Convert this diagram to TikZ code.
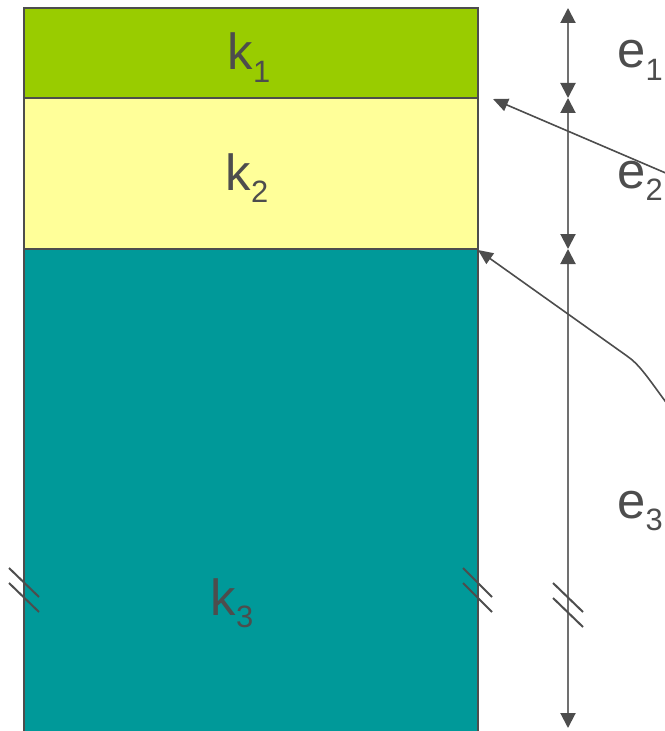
\documentclass[tikz,border=0pt]{standalone}
\usepackage{fontspec}
\setmainfont{Liberation Sans}
\usetikzlibrary{arrows.meta,positioning}

\definecolor{layerone}{HTML}{99CC00}
\definecolor{layertwo}{HTML}{FFFF99}
\definecolor{layerthree}{HTML}{009999}
\definecolor{inkgray}{HTML}{4D4D4D}
\definecolor{dimgray}{HTML}{707070}

% lowered index for layer names
\newcommand\lsub[1]{\raisebox{-0.24em}{\fontsize{31}{31}\selectfont #1}}

\tikzset{
  layer/.style={draw=inkgray, line width=2bp},
  lbl/.style={anchor=base, text=inkgray, font=\fontsize{51}{60}\selectfont, inner sep=0pt},
  dimline/.style={draw=dimgray, line width=2bp, {Triangle[length=15bp,width=15bp,color=inkgray]}-{Triangle[length=15bp,width=15bp,color=inkgray]}},
  leader/.style={draw=inkgray, line width=1.6bp, -{Triangle[length=15bp,width=13bp]}},
  brk/.style={draw=inkgray, line width=2bp}
}

\begin{document}
\begin{tikzpicture}[x=1bp, y=-1bp]
  \useasboundingbox (0,0) rectangle (665,731);

  % Schichten
  \fill[layerone] (24,8) rectangle (478,98);
  \fill[layertwo] (24,98) rectangle (478,249);
  \fill[layerthree] (24,249) rectangle (478,745);
  \draw[layer] (24,745) -- (24,8) -- (478,8) -- (478,745);
  \draw[layer] (24,98) -- (478,98);
  \draw[layer] (24,249) -- (478,249);

  % Ecken fuer die Hinweispfeile
  \coordinate (c12) at (493,99);
  \coordinate (c23) at (478,250);

  % Beschriftung der Schichten
  \node[lbl] (k1) at (249,70) {k\lsub{1}};
  \node[lbl] (k2) at (247,190) {k\lsub{2}};
  \node[lbl] (k3) at (232,615) {k\lsub{3}};

  % Bemassung
  \coordinate (d0) at (568,8);
  \coordinate (d1) at (568,98);
  \coordinate (d2) at (568,249);
  \coordinate (d3) at (568,728);
  \draw[dimline] (d0) -- (d1);
  \draw[dimline] (d1) -- (d2);
  \draw[dimline] (d2) -- (d3);

  \node[lbl] (e1) at (640,68) {e\lsub{1}};
  \node[lbl] (e2) at (640,188) {e\lsub{2}};
  \node[lbl] (e3) at (640,518) {e\lsub{3}};

  % Hinweispfeile
  \coordinate (p1) at (668,174);
  \coordinate (p2) at (668,405);
  \draw[leader] (p1) -- (c12);
  \draw[leader] (p2) .. controls (648,378) and (640,365) .. (627,356) -- (c23);

  % Bruchstriche
  \foreach \dy in {0,15} {
    \draw[brk] (9,568+\dy) -- (39,597+\dy);
    \draw[brk] (463,568+\dy) -- (492,597+\dy);
    \draw[brk] (553,583+\dy) -- (583,612+\dy);
  }
\end{tikzpicture}
\end{document}
